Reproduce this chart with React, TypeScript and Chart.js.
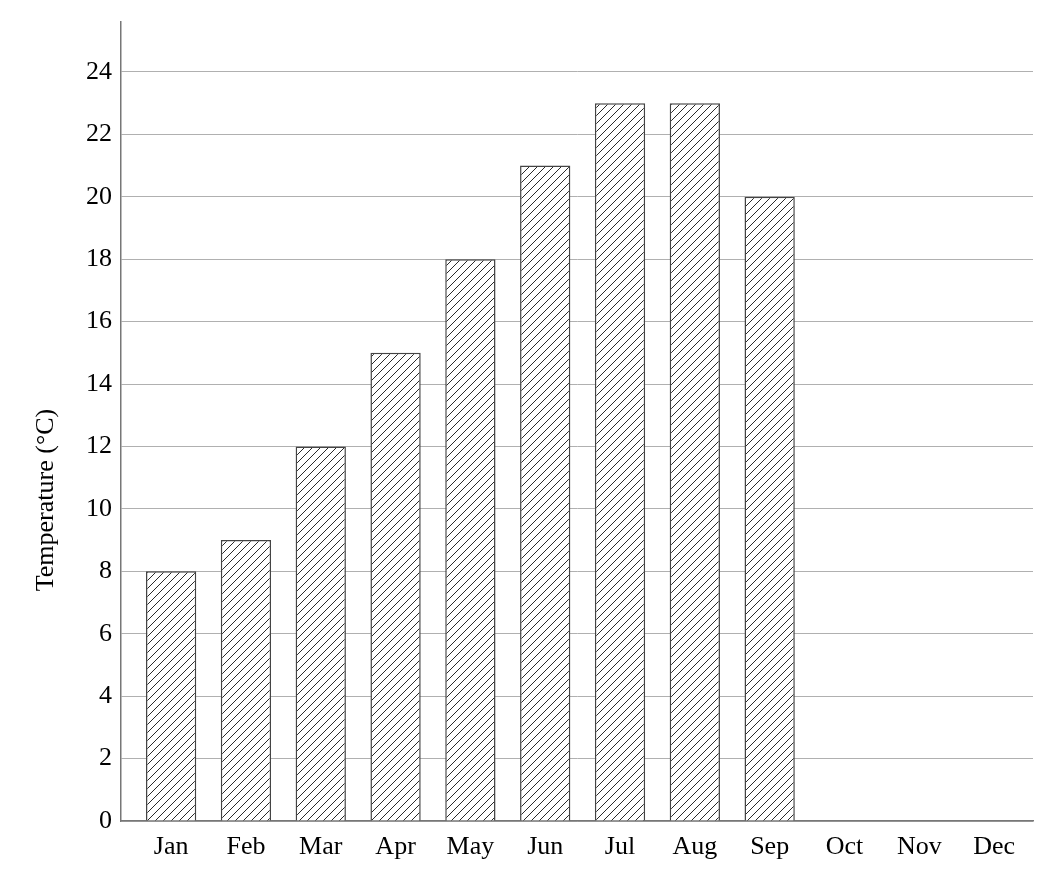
import React, { useEffect, useRef } from "react";
import { Chart, registerables } from "chart.js";

Chart.register(...registerables);

const months = ["Jan", "Feb", "Mar", "Apr", "May", "Jun", "Jul", "Aug", "Sep", "Oct", "Nov", "Dec"];
const temperatures = [8, 9, 12, 15, 18, 21, 23, 23, 20];
const yTitle = "Temperature (°C)";

const FONT = '"Liberation Serif", "Times New Roman", serif';

function makeHatch(): CanvasPattern | string {
  const s = 8;
  const c = document.createElement("canvas");
  c.width = s;
  c.height = s;
  const g = c.getContext("2d");
  if (!g) return "#fff";
  g.fillStyle = "#ffffff";
  g.fillRect(0, 0, s, s);
  g.strokeStyle = "#2a2a2a";
  g.lineWidth = 1;
  g.beginPath();
  g.moveTo(0, s);
  g.lineTo(s, 0);
  g.moveTo(-1, 1);
  g.lineTo(1, -1);
  g.moveTo(s - 1, s + 1);
  g.lineTo(s + 1, s - 1);
  g.stroke();
  const p = g.createPattern(c, "repeat");
  return p || "#fff";
}

const titlePlugin = {
  id: "yTitlePlugin",
  afterDraw(chart: any) {
    const { ctx, chartArea } = chart;
    ctx.save();
    ctx.translate(46, chartArea.top + 478);
    ctx.rotate(-Math.PI / 2);
    ctx.font = `26px ${FONT}`;
    ctx.fillStyle = "#000";
    ctx.textAlign = "center";
    ctx.textBaseline = "middle";
    ctx.fillText(yTitle, 0, 0);
    ctx.restore();
  },
};

export default function App() {
  const ref = useRef<HTMLCanvasElement | null>(null);

  useEffect(() => {
    document.body.style.margin = "0";
    if (!ref.current) return;
    const hatch = makeHatch();
    const data = temperatures.map((v, i) => ({ x: i, y: v }));
    const chart = new Chart(ref.current, {
      type: "bar",
      data: {
        datasets: [
          {
            data: data as any,
            backgroundColor: hatch as any,
            borderColor: "#444444",
            borderWidth: 1.5,
            barPercentage: 0.672,
            categoryPercentage: 1,
          },
        ],
      },
      plugins: [titlePlugin],
      options: {
        animation: false,
        responsive: false,
        devicePixelRatio: 1,
        layout: { padding: { left: 0, right: 29, top: 22, bottom: 0 } },
        plugins: { legend: { display: false }, tooltip: { enabled: false } },
        scales: {
          x: {
            type: "linear",
            min: -0.67,
            max: 11.52,
            offset: false,
            grid: { display: false, drawTicks: false },
            border: { display: true, color: "#777777", width: 1.5 },
            afterFit: (s: any) => {
              s.height = 53;
              s.paddingLeft = 0;
              s.paddingRight = 0;
            },
            ticks: {
              stepSize: 1,
              includeBounds: false,
              autoSkip: false,
              maxRotation: 0,
              padding: 11,
              color: "#000",
              font: { family: FONT, size: 26 },
              callback: (v: any) => months[Number(v)] ?? "",
            },
          },
          y: {
            min: 0,
            max: 25.6,
            grid: { color: "#b0b0b0", lineWidth: 1, drawTicks: false },
            border: { display: true, color: "#777777", width: 1.5 },
            afterFit: (s: any) => {
              s.width = 121;
              s.paddingTop = 0;
              s.paddingBottom = 0;
            },
            ticks: {
              stepSize: 2,
              includeBounds: false,
              padding: 9,
              color: "#000",
              font: { family: FONT, size: 26 },
            },
          },
        },
      },
    });
    return () => chart.destroy();
  }, []);

  return (
    <div style={{ width: 1062, height: 874 }}>
      <canvas ref={ref} width={1062} height={874} />
    </div>
  );
}
